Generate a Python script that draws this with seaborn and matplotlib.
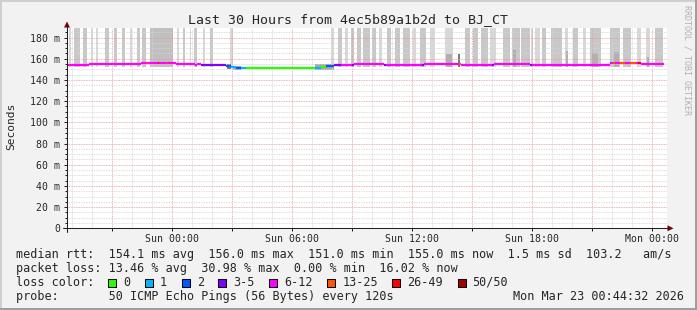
import numpy as np
import pandas as pd
import matplotlib
matplotlib.use("Agg")
import matplotlib.pyplot as plt
import seaborn as sns
from matplotlib.patches import Polygon, Rectangle
from matplotlib.lines import Line2D
from matplotlib.ticker import FixedLocator, MultipleLocator

# ---------------- data ----------------
title = "Last 30 Hours from 4ec5b89a1b2d to BJ_CT"
y_label = "Seconds"
watermark = "RRDTOOL / TOBI OETIKER"

# time in hours relative to Sun 00:00
x_range = [-5.2667, 24.7333]
x_ticks = [-3, 0, 3, 6, 9, 12, 15, 18, 21, 24]
x_tick_labels = ["", "Sun 00:00", "", "Sun 06:00", "", "Sun 12:00", "", "Sun 18:00", "", "Mon 00:00"]
y_ticks = [0, 20, 40, 60, 80, 100, 120, 140, 160, 180]
y_tick_labels = ["0", "20 m", "40 m", "60 m", "80 m", "100 m", "120 m", "140 m", "160 m", "180 m"]
y_top = 189

loss_classes = ["0", "1", "2", "3-5", "6-12", "13-25", "26-49", "50/50"]
loss_colors = ["#26ff00", "#00b8ff", "#0059ff", "#7e00ff", "#ff00ff", "#ff5500", "#ff0000", "#a10000"]

# median rtt (ms) segments
med_start = [-5.27, -4.30, -4.15, -1.80, -1.55, -1.25, -1.20, -0.70, -0.65, -0.30, -0.25, 0.20, 0.45,
             1.15, 1.25, 1.45, 2.70, 2.95, 3.20, 3.45, 3.70, 7.15, 7.45, 7.70, 8.10, 8.45, 9.00, 9.10,
             10.60, 10.70, 12.50, 12.60, 14.35, 14.45, 16.00, 16.10, 17.90, 18.00, 21.90, 22.05, 22.15,
             22.40, 22.65, 22.90, 23.20, 23.30, 23.45, 23.70, 23.90]
med_end = med_start[1:] + [24.60]
med_value = [154.5, 153.7, 154.6, 155.3, 156.0, 156.0, 156.2, 156.2, 156.0, 156.0, 155.8, 155.2, 154.8,
             153.9, 154.6, 154.2, 153.0, 152.2, 151.6, 151.2, 150.9, 151.4, 152.0, 153.0, 154.0, 154.5, 154.3, 154.6,
             154.3, 154.5, 154.3, 154.6, 155.2, 154.5, 154.2, 154.6, 154.3, 154.5, 156.0, 156.0, 156.1,
             156.0, 156.2, 156.0, 156.1, 155.9, 154.8, 155.3, 154.8]
med_loss = ["6-12", "6-12", "6-12", "6-12", "6-12", "13-25", "6-12", "26-49", "6-12", "13-25", "6-12", "6-12", "6-12",
            "6-12", "6-12", "3-5", "2", "1", "2", "1", "0", "1", "0", "2", "3-5", "6-12", "3-5", "6-12",
            "3-5", "6-12", "3-5", "6-12", "13-25", "6-12", "3-5", "6-12", "3-5", "6-12", "6-12", "13-25", "6-12",
            "13-25", "6-12", "13-25", "6-12", "26-49", "6-12", "6-12", "6-12"]

# smoke columns reaching above the graph (start h, end h, shade)
smoke_start = [-5.15, -4.90, -4.45, -4.05, -3.80, -3.35, -2.90, -2.50, -2.10, -1.75, -1.50, -1.10,
               0.25, 0.55, 0.90, 1.10, 1.55, 1.90, 2.90, 7.95, 8.30, 8.65, 8.95, 9.25, 9.55, 10.00,
               10.35, 10.75, 11.15, 11.55, 12.05, 12.40, 12.90, 13.65, 14.65, 15.05, 15.45, 15.90,
               16.55, 17.00, 17.45, 17.95, 18.15, 18.50, 18.95, 19.65, 20.05, 20.55, 20.90, 21.90,
               22.05, 22.55, 23.25, 23.70, 24.15]
smoke_end = [-5.05, -4.60, -4.25, -3.95, -3.70, -3.15, -2.75, -2.35, -2.00, -1.60, -1.30, 0.05,
             0.35, 0.65, 0.95, 1.25, 1.65, 2.05, 3.05, 8.10, 8.50, 8.80, 9.10, 9.45, 9.90, 10.20,
             10.50, 10.95, 11.40, 11.90, 12.20, 12.70, 13.15, 14.05, 14.90, 15.30, 15.80, 16.20,
             16.90, 17.40, 17.90, 18.05, 18.40, 18.70, 19.50, 19.80, 20.30, 20.70, 21.45, 22.05,
             22.40, 22.95, 23.45, 23.90, 24.55]
smoke_shade = ["light", "mid", "mid", "light", "light", "mid", "mid", "mid", "light", "mid", "mid", "dark",
               "light", "mid", "light", "mid", "light", "mid", "light", "light", "mid", "light", "mid", "mid", "mid", "mid",
               "light", "mid", "mid", "mid", "light", "mid", "light", "light", "mid", "mid", "mid", "light",
               "mid", "mid", "mid", "light", "light", "mid", "mid", "light", "mid", "light", "mid", "mid",
               "mid", "mid", "light", "light", "mid"]

# shorter smoke (start h, end h, bottom ms, top ms, shade)
short_start = [2.75, 3.05, 7.15, 13.70, 14.30, 17.05, 19.70, 21.00, 22.10, 23.75]
short_end = [2.95, 3.45, 8.10, 14.00, 14.40, 17.20, 19.78, 21.30, 22.35, 23.85]
short_bottom = [150.0, 149.8, 149.8, 152.5, 152.5, 152.5, 152.5, 152.5, 152.5, 152.5]
short_top = [155.0, 153.5, 154.8, 164.0, 164.0, 168.0, 167.0, 165.0, 166.0, 162.0]
short_shade = ["deep", "grey", "grey", "mid2", "deep", "mid2", "mid2", "mid2", "mid2", "mid2"]

stats_rtt = "median rtt:  154.1 ms avg  156.0 ms max  151.0 ms min  155.0 ms now  1.5 ms sd  103.2   am/s"
stats_loss = "packet loss: 13.46 % avg  30.98 % max  0.00 % min  16.02 % now"
loss_title = "loss color:"
probe_label = "probe:       50 ICMP Echo Pings (56 Bytes) every 120s"
date_label = "Mon Mar 23 00:44:32 2026"

# ---------------- styling ----------------
sns.set_style("white")
plt.rcParams["font.family"] = ["DejaVu Sans Mono"]

W, H = 697, 310
fig = plt.figure(figsize=(W / 100, H / 100), dpi=100)
fig.patch.set_facecolor("#f2f2f2")

def fx(x):
    return x / W

def fy(y):
    return 1 - y / H

ax_l, ax_r, ax_t, ax_b = 67, 667, 28, 228.3
ax = fig.add_axes([fx(ax_l), fy(ax_b), (ax_r - ax_l) / W, (ax_b - ax_t) / H])
ax.set_facecolor("white")

shade_map = {"light": "#d8d8d8", "mid": "#c8c8c8", "dark": "#c0c0c0",
             "mid2": "#b0b0b0", "deep": "#7a7a7a", "grey": "#a8a8a8"}

# smoke
s0 = np.array(smoke_start)
s1 = np.array(smoke_end)
ax.bar(s0, y_top + 5 - 152.5, width=s1 - s0, bottom=152.5, align="edge",
       color=[shade_map[s] for s in smoke_shade], linewidth=0, zorder=1)
b0 = np.array(short_start)
b1 = np.array(short_end)
ax.bar(b0, np.array(short_top) - np.array(short_bottom), width=b1 - b0, bottom=short_bottom,
       align="edge", color=[shade_map[s] for s in short_shade], linewidth=0, zorder=1.5)

# median line
rows = []
for i, (s, e, v, l) in enumerate(zip(med_start, med_end, med_value, med_loss)):
    rows.append((i, s, v, l))
    rows.append((i, e, v, l))
df = pd.DataFrame(rows, columns=["seg", "t", "v", "loss"])
sns.lineplot(data=df, x="t", y="v", hue="loss", units="seg", estimator=None,
             palette=dict(zip(loss_classes, loss_colors)), linewidth=1.6,
             legend=False, ax=ax, zorder=4, solid_capstyle="butt")

ax.set_xlim(*x_range)
ax.set_ylim(0, y_top)
ax.set_xlabel("")
ax.set_ylabel("")

# ticks and grid
ax.xaxis.set_major_locator(FixedLocator(x_ticks))
ax.set_xticklabels(x_tick_labels)
ax.xaxis.set_minor_locator(MultipleLocator(1))
ax.yaxis.set_major_locator(FixedLocator(y_ticks))
ax.set_yticklabels(y_tick_labels)
ax.yaxis.set_minor_locator(MultipleLocator(5))
ax.tick_params(axis="x", which="major", length=2.2, width=0.72, color="#222222",
               labelsize=7.1, pad=1.6, direction="out", bottom=True)
ax.tick_params(axis="x", which="minor", length=0)
ax.tick_params(axis="y", which="major", length=2.2, width=0.72, color="#222222",
               labelsize=7.1, pad=2.6, direction="out", left=True)
ax.tick_params(axis="y", which="minor", length=1.4, width=0.72, color="#222222", left=True)
for lab in ax.get_xticklabels() + ax.get_yticklabels():
    lab.set_family("DejaVu Sans Mono")

ax.set_axisbelow(False)
ax.grid(True, which="minor", color="#d4d4d4", linewidth=0.6, linestyle=(0, (1.0, 1.0)))
ax.grid(True, which="major", color="#e89a9a", linewidth=0.6, linestyle=(0, (1.0, 1.0)))
for sp in ax.spines.values():
    sp.set_visible(False)

# axes lines and arrows
axis_col = "#222222"
fig.add_artist(Line2D([fx(67), fx(67)], [fy(232), fy(26)], color=axis_col, lw=0.75))
fig.add_artist(Line2D([fx(63), fx(669)], [fy(228.3), fy(228.3)], color=axis_col, lw=0.75))
fig.add_artist(Polygon([[fx(67), fy(21.5)], [fx(64), fy(27.5)], [fx(70), fy(27.5)]],
                       closed=True, color="#7f0000", lw=0))
fig.add_artist(Polygon([[fx(673.5), fy(228.3)], [fx(667.5), fy(225.3)], [fx(667.5), fy(231.3)]],
                       closed=True, color="#7f0000", lw=0))

# frame shading
fig.add_artist(Rectangle((0, fy(2)), 1, 2 / H, color="#cfcfcf", lw=0))
fig.add_artist(Rectangle((0, 0), 2 / W, 1, color="#cfcfcf", lw=0))
fig.add_artist(Rectangle((0, 0), 1, 2 / H, color="#9e9e9e", lw=0))
fig.add_artist(Rectangle((1 - 2 / W, 0), 2 / W, 1, color="#9e9e9e", lw=0))

# texts
fig.text(fx(347.5), fy(19.3), title, ha="center", va="center", fontsize=9.5)
fig.text(fx(11), fy(126.5), y_label, ha="center", va="center", rotation=90, fontsize=8.1)
fig.text(fx(686.5), fy(60), watermark, ha="center", va="center", rotation=270,
         fontsize=6.0, color="#b0b0b0")

fs = 8.5
cw = 7.1
fig.text(fx(16), fy(254.3), stats_rtt, ha="left", va="center", fontsize=fs)
fig.text(fx(16), fy(268.3), stats_loss, ha="left", va="center", fontsize=fs)
fig.text(fx(16), fy(282.3), loss_title, ha="left", va="center", fontsize=fs)
xpos = 108.3
for cls, col in zip(loss_classes, loss_colors):
    fig.add_artist(Rectangle((fx(xpos), fy(287)), 8 / W, 8 / H, facecolor=col,
                             edgecolor="black", lw=0.75))
    fig.text(fx(xpos + 15), fy(282.3), cls, ha="left", va="center", fontsize=fs)
    xpos = xpos + 15 + len(cls) * cw + 14.6
fig.text(fx(16), fy(296.3), probe_label, ha="left", va="center", fontsize=fs)
fig.text(fx(512.7), fy(296.3), date_label, ha="left", va="center", fontsize=fs)

fig.savefig("out.png", dpi=100, facecolor=fig.get_facecolor())
